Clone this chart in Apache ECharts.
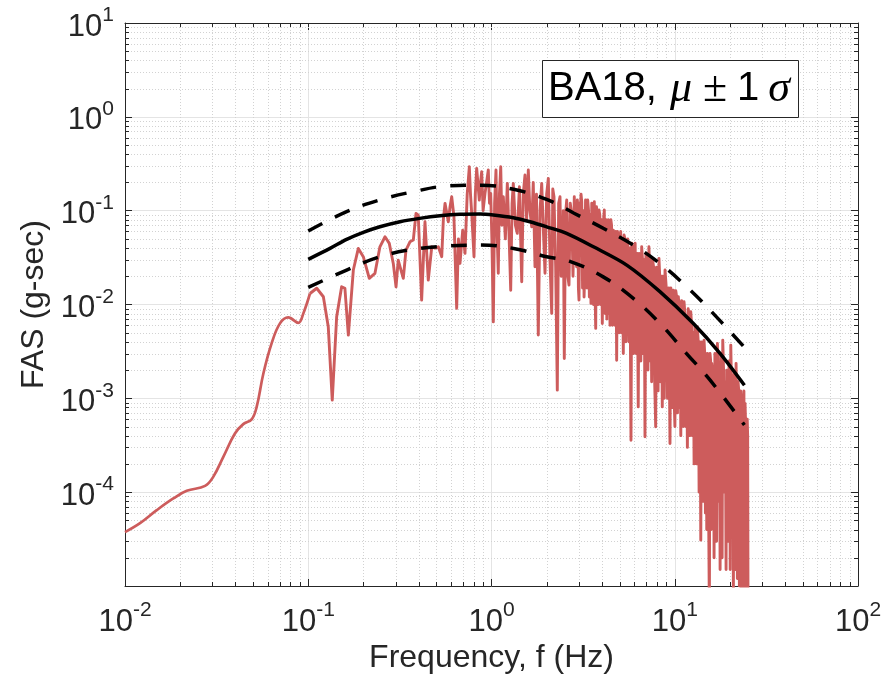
<!DOCTYPE html>
<html>
<head>
<meta charset="utf-8">
<script src="https://cdn.jsdelivr.net/npm/echarts@6.0.0/dist/echarts.min.js"></script>
<style>
html,body{margin:0;padding:0;background:#fff;}
#chart{width:892px;height:682px;}
</style>
</head>
<body>
<div id="chart"></div>
<script>
// ---------------- data ----------------
// FAS record, smooth low-frequency part [frequency (Hz), FAS (g-sec)]
const fasLow = [
  [0.01,3.75e-5],[0.01208,4.67e-5],[0.0149,6.43e-5],[0.01835,8.57e-5],[0.02173,1.033e-4],
  [0.02735,1.167e-4],[0.0303,1.456e-4],[0.0344,2.38e-4],[0.0398,4.22e-4],[0.0442,5.31e-4],
  [0.0491,5.96e-4],[0.0523,8.1e-4],[0.0569,1.84e-3],[0.0631,3.85e-3],[0.0701,6.29e-3],
  [0.0778,7.28e-3],[0.0883,6.38e-3],[0.094,8.04e-3],[0.1022,1.31e-2]
];
// FAS record, noisy part
const fasHigh = [
  [0.1022,1.31e-2],[0.1112,1.49e-2],[0.1209,1.21e-2],[0.1286,5.78e-3],[0.1352,9.57e-4],
  [0.1429,7.4e-3],[0.1521,1.545e-2],[0.1585,1.49e-2],[0.1655,4.72e-3],[0.1762,2.33e-2],
  [0.1876,3.96e-2],[0.1997,3.23e-2],[0.2153,1.9e-2],[0.2312,2.15e-2],[0.2461,4.12e-2],
  [0.2624,5.27e-2],[0.2768,4.48e-2],[0.2911,2.74e-2],[0.3013,1.545e-2],[0.3098,2.97e-2],
  [0.3206,2.33e-2],[0.3302,1.9e-2],[0.3414,3.8e-2],[0.359,4.66e-2],[0.3743,4.86e-2],
  [0.3873,9.36e-2],[0.3983,8.98e-2],[0.4157,1.114e-2],[0.4335,7.62e-2],[0.4519,1.82e-2],
  [0.472,4.12e-2],[0.492,3.99e-2],[0.5128,4.12e-2],[0.5351,3.23e-2],[0.546,0.08],
  [0.5577,0.1197],[0.5812,7.62e-2],[0.594,0.11],[0.6065,0.1406],[0.6238,8.61e-2],
  [0.6457,9.09e-3],[0.66,0.05],[0.673,2.74e-2],[0.6966,6.21e-2],[0.7168,3.51e-2],
  [0.737,0.15],[0.7568,0.2938],[0.768,0.15],[0.7798,9.36e-2],[0.8027,3.23e-2],
  [0.816,0.15],[0.83,0.2825],[0.8579,0.1297],[0.871,0.2],[0.8841,0.26],
  [0.90,0.1],[0.9215,0.1528],[0.94,0.2],[0.9605,0.271],[0.975,0.12],
  [0.99,0.1528],[1.005,0.05],[1.023,6.53e-3],[1.04,0.12],[1.058,0.271],
  [1.072,0.06],[1.089,2.15e-2],[1.105,0.15],[1.123,0.2938],[1.14,0.07],
  [1.16,0.1406],[1.19,0.05],[1.22,0.1954],[1.245,0.06],[1.273,1.42e-2],
  [1.295,0.12],[1.315,0.1954],[1.35,0.07],[1.383,5.73e-2],[1.42,0.18],
  [1.462,1.746e-2],[1.49,0.15],[1.523,0.2398],[1.555,0.08],[1.588,0.271],
  [1.62,0.1],[1.658,6.73e-2],[1.69,0.2],[1.727,2.52e-2],[1.76,0.15],
  [1.80,4.72e-3],[1.84,0.1],[1.879,0.1954],[1.92,0.06],[1.959,2.15e-2],
  [2.0,0.15],[2.042,0.2209],[2.085,0.03],[2.131,8.04e-3],[2.16,0.17],
  [2.193,0.1406],[2.24,0.025],[2.286,1.223e-3],[2.325,0.12],[2.365,0.1406],
  [2.40,0.02],[2.434,2.52e-2],[2.465,0.1],[2.496,2.66e-3],[2.535,0.09],
  [2.573,0.1297],[2.61,0.02],[2.648,1.61e-2],[2.69,0.12],[2.74,8.98e-2],
  [2.785,0.02],[2.83,0.1406],[2.875,0.03],[2.917,2.52e-2],[2.94,0.13],
  [2.96,0.11],[2.98,0.015],[3.003,1.114e-2],[3.03,0.12],[3.05,0.09],
  [3.08,0.15],[3.107,0.1245],[3.14,0.015],[3.17,0.1],[3.2,0.012],
  [3.237,2.74e-2],[3.26,0.13],[3.29,0.11],[3.32,0.015],[3.35,0.1297],
  [3.385,0.1],[3.42,0.012],[3.455,0.09],[3.49,1.028e-2],[3.525,0.12],
  [3.56,0.09],[3.6,0.01],[3.64,0.1245],[3.67,0.015],[3.704,5.56e-3],
  [3.74,0.11],[3.78,0.08],[3.82,0.01],[3.861,0.1015],[3.9,0.09],
  [3.94,0.01],[3.98,0.08],[4.024,6.28e-3],[4.07,0.07],[4.126,0.1015],
  [4.17,0.008],[4.21,0.08],[4.26,0.007],[4.306,5.73e-2],[4.34,0.08],
  [4.37,0.008],[4.40,0.06],[4.433,6e-3],[4.48,0.08],[4.52,0.07],
  [4.57,0.006],[4.62,6.21e-2],[4.67,0.05],[4.72,0.006],[4.77,0.06],
  [4.82,2.55e-3],[4.87,0.06],[4.92,0.04],[4.97,0.005],[5.02,5.27e-2],
  [5.07,0.06],[5.13,0.005],[5.18,0.05],[5.24,3.0e-3],[5.29,0.055],
  [5.35,0.05],[5.41,0.004],[5.466,4.48e-2],[5.54,0.05],[5.62,0.004],
  [5.69,0.04],[5.77,3.58e-4],[5.83,0.045],[5.89,0.035],[5.95,0.003],
  [6.01,3.8e-2],[6.08,0.045],[6.16,0.003],[6.24,0.035],[6.32,8.1e-4],
  [6.39,0.035],[6.46,0.03],[6.53,0.0025],[6.6,4.12e-2],[6.67,0.03],
  [6.74,0.003],[6.81,0.03],[6.88,3.89e-4],[6.96,0.035],[7.05,0.03],
  [7.14,0.002],[7.23,4.12e-2],[7.29,0.025],[7.35,0.0025],[7.41,0.03],
  [7.48,1.5e-3],[7.57,0.03],[7.67,0.025],[7.77,0.0015],[7.87,4.97e-4],
  [7.95,0.025],[8.03,0.015],[8.11,0.0012],[8.2,3.1e-2],[8.28,0.02],
  [8.37,0.0015],[8.46,0.02],[8.55,8.1e-4],[8.62,0.02],[8.7,0.018],
  [8.77,0.001],[8.85,2.33e-2],[8.99,0.015],[9.13,0.001],[9.27,0.015],
  [9.42,3.3e-4],[9.52,0.015],[9.62,0.012],[9.72,0.0008],[9.82,1.42e-2],
  [9.92,0.001],[10.02,5e-4],[10.13,0.014],[10.24,0.012],[10.35,0.0007],
  [10.46,1.21e-2],[10.54,0.01],[10.62,0.0008],[10.7,0.009],[10.79,4e-4],
  [10.9,0.011],[11.0,0.009],[11.12,0.0005],[11.24,1.068e-2],[11.36,0.008],
  [11.48,0.0005],[11.6,0.007],[11.72,3e-4],[11.84,0.009],[11.97,0.007],
  [12.1,0.0004],[12.23,8.36e-3],[12.36,0.006],[12.49,0.0004],[12.62,0.005],
  [12.75,2e-4],[12.88,0.006],[13.02,0.005],[13.15,0.0002],[13.29,5.78e-3],
  [13.43,0.004],[13.58,0.0001],[13.72,0.004],[13.87,3.08e-5],[14.01,0.004],
  [14.16,0.003],[14.3,8e-5],[14.45,4.17e-3],[14.57,0.003],[14.7,6e-5],
  [14.82,0.003],[14.95,4e-5],[15.08,0.003],[15.2,0.002],[15.32,5e-5],
  [15.45,5e-6],[15.58,0.003],[15.7,0.0025],[15.81,4e-5],[15.92,2.36e-3],
  [16.03,0.002],[16.15,1e-4],[16.27,0.002],[16.39,2e-5],[16.56,0.003],
  [16.74,0.002],[16.91,3e-5],[17.09,3.85e-3],[17.23,0.002],[17.38,8e-5],
  [17.53,0.002],[17.68,1.5e-5],[17.83,0.003],[17.98,0.002],[18.13,2e-5],
  [18.28,4.17e-3],[18.47,0.002],[18.67,1e-4],[18.86,0.0015],[19.06,1.5e-5],
  [19.2,0.002],[19.34,0.0015],[19.48,6e-5],[19.62,3e-5],[19.77,0.0025],
  [19.92,0.002],[20.07,1.5e-5],[20.22,3.69e-3],[20.38,0.0015],[20.55,5e-5],
  [20.72,0.0012],[20.89,8e-6],[21.07,0.0018],[21.25,0.0015],[21.43,1.5e-5],
  [21.61,2.36e-3],[21.7,0.001],[21.79,1.5e-5],[21.88,0.001],[21.97,1.2e-5],
  [22.16,0.0015],[22.35,0.0012],[22.53,1e-5],[22.72,6.9e-4],[22.91,0.0012],
  [23.1,8e-6],[23.3,0.0008],[23.5,8e-6],[23.67,0.001],[23.85,0.0012],
  [24.02,8e-6],[24.19,8.83e-4],[24.32,0.0006],[24.45,8e-6],[24.58,0.0005],
  [24.72,8e-6],[24.86,0.0006],[25.0,0.0004],[25.1,8e-6],[25.23,5e-6]
];
// BA18 model: median and +/- 1 sigma
const meanFreq  = [0.1, 0.1315, 0.162, 0.1997, 0.246, 0.3167, 0.405, 0.5236, 0.673, 0.8655, 1.023, 1.315, 1.622, 2.0, 2.57, 3.6, 5.47, 8.3, 12.6, 17.7, 24.0];
const meanAmp   = [0.0303, 0.0396, 0.0494, 0.0587, 0.0673, 0.0762, 0.0828, 0.0883, 0.0914, 0.092, 0.0898, 0.084, 0.0762, 0.0673, 0.0573, 0.0412, 0.0263, 0.0137, 0.0063, 0.0030, 0.00138];
const upperFreq = [0.1, 0.162, 0.246, 0.373, 0.569, 0.868, 1.32, 2.0, 2.82, 4.07, 5.94, 8.3, 11.6, 15.6, 24.0];
const upperAmp  = [0.0606, 0.0975, 0.130, 0.159, 0.183, 0.187, 0.169, 0.132, 0.094, 0.065, 0.043, 0.0274, 0.0155, 0.0087, 0.0035];
const lowerFreq = [0.1, 0.162, 0.246, 0.373, 0.569, 0.868, 1.32, 2.0, 2.72, 4.07, 5.94, 8.3, 11.6, 15.6, 24.0];
const lowerAmp  = [0.0152, 0.0233, 0.0323, 0.0387, 0.042, 0.043, 0.0396, 0.0323, 0.0285, 0.0197, 0.0116, 0.0063, 0.0030, 0.00156, 0.00052];
// axis ranges / labels
const X_MIN = 0.01, X_MAX = 100, Y_MIN = 1e-5, Y_MAX = 10;
const xName = 'Frequency, f (Hz)';
const yName = 'FAS (g-sec)';

// ---------------- helpers ----------------
function zip(xs, ys){ return xs.map((x,i)=>[x, ys[i]]); }
function minorValues(lo, hi){
  const out = [];
  for (let e = Math.round(Math.log10(lo)); e < Math.round(Math.log10(hi)); e++) {
    for (let m = 2; m <= 9; m++) out.push(m * Math.pow(10, e));
  }
  return out;
}
const xMinor = minorValues(X_MIN, X_MAX);
const yMinor = minorValues(Y_MIN, Y_MAX);

const AX = '#262626';
const FONT = 'Liberation Sans';
const tickRich = {
  b: { fontSize: 31, lineHeight: 44, fontFamily: FONT, color: AX },
  s: { fontSize: 21, lineHeight: 20, fontFamily: FONT, color: AX, verticalAlign: 'top' }
};
function powLabel(v, hideExp){
  const e = Math.round(Math.log10(v));
  if (hideExp !== undefined && e === hideExp) return '';
  return '{b|10}{s|' + e + '}';
}
const crisp = v => Math.round(v) + 0.5;

const chart = echarts.init(document.getElementById('chart'), null, {renderer: 'canvas'});
const option = {
  animation: false,
  backgroundColor: '#fff',
  grid: { left: 125, right: 34, top: 23, bottom: 96, containLabel: false, outerBoundsMode: 'none' },
  title: {
    text: '{a|BA18,}{m|μ}{p|±}{c|1}{n|σ}',
    left: 542, top: 60,
    padding: [7, 5, 7, 6],
    borderColor: AX, borderWidth: 1, backgroundColor: '#fff',
    textStyle: {
      fontWeight: 'normal',
      rich: {
        a: { fontFamily: FONT, fontSize: 40, fontWeight: 'normal', lineHeight: 44, color: '#000', width: 116, align: 'left' },
        m: { fontFamily: 'Liberation Serif', fontStyle: 'italic', fontWeight: 'normal', fontSize: 44, lineHeight: 44, color: '#000', width: 34, align: 'center' },
        p: { fontFamily: 'Liberation Serif', fontWeight: 'normal', fontSize: 44, lineHeight: 44, color: '#000', width: 34, align: 'center' },
        c: { fontFamily: FONT, fontSize: 40, fontWeight: 'normal', lineHeight: 44, color: '#000', width: 32, align: 'center' },
        n: { fontFamily: 'Liberation Serif', fontStyle: 'italic', fontWeight: 'normal', fontSize: 44, lineHeight: 44, color: '#000', width: 30, align: 'left' }
      }
    }
  },
  xAxis: [{
    type: 'log', logBase: 10, min: X_MIN, max: X_MAX, interval: 1, position: 'bottom',
    name: xName, nameLocation: 'middle', nameGap: 56,
    nameTextStyle: { fontSize: 32, fontFamily: FONT, color: AX },
    axisLine: { show: true, onZero: false, lineStyle: { color: AX, width: 1 } },
    axisTick: { show: true, inside: true, length: 7, lineStyle: { color: AX } },
    axisLabel: { margin: 14, formatter: v => powLabel(v), rich: tickRich },
    splitLine: { show: true, lineStyle: { color: '#e4e4e4', width: 1 } }
  }, {
    type: 'log', logBase: 10, min: X_MIN, max: X_MAX, interval: 1, position: 'top',
    axisLine: { show: true, onZero: false, lineStyle: { color: AX, width: 1 } },
    axisTick: { show: true, inside: true, length: 7, lineStyle: { color: AX } },
    axisLabel: { show: false }, splitLine: { show: false }
  }],
  yAxis: [{
    type: 'log', logBase: 10, min: Y_MIN, max: Y_MAX, interval: 1, position: 'left',
    name: yName, nameLocation: 'middle', nameGap: 65, nameRotate: 90,
    nameTextStyle: { fontSize: 32, fontFamily: FONT, color: AX },
    axisLine: { show: true, onZero: false, lineStyle: { color: AX, width: 1 } },
    axisTick: { show: true, inside: true, length: 7, lineStyle: { color: AX } },
    axisLabel: { margin: 11, padding: [8, 0, 0, 0], formatter: v => powLabel(v, -5), rich: tickRich },
    splitLine: { show: true, lineStyle: { color: '#e4e4e4', width: 1 } }
  }, {
    type: 'log', logBase: 10, min: Y_MIN, max: Y_MAX, interval: 1, position: 'right',
    axisLine: { show: true, onZero: false, lineStyle: { color: AX, width: 1 } },
    axisTick: { show: true, inside: true, length: 7, lineStyle: { color: AX } },
    axisLabel: { show: false }, splitLine: { show: false }
  }],
  series: [
    {
      type: 'custom', xAxisIndex: 0, yAxisIndex: 0, z: 1, silent: true,
      data: xMinor.map(v => [v, 1]), encode: { x: 0, y: 1 },
      renderItem: (params, api) => {
        const x = api.value(0);
        const b = api.coord([x, Y_MIN]), t = api.coord([x, Y_MAX]);
        const px = crisp(b[0]);
        return { type: 'group', children: [
          { type: 'line', shape: { x1: px, y1: b[1], x2: px, y2: t[1] }, style: { stroke: '#d2d2d2', lineWidth: 1, lineDash: [1, 2] } },
          { type: 'line', shape: { x1: px, y1: b[1], x2: px, y2: b[1] - 4 }, style: { stroke: AX, lineWidth: 1 } },
          { type: 'line', shape: { x1: px, y1: t[1], x2: px, y2: t[1] + 4 }, style: { stroke: AX, lineWidth: 1 } }
        ]};
      }
    },
    {
      type: 'custom', xAxisIndex: 0, yAxisIndex: 0, z: 1, silent: true,
      data: yMinor.map(v => [1, v]), encode: { x: 0, y: 1 },
      renderItem: (params, api) => {
        const y = api.value(1);
        const l = api.coord([X_MIN, y]), r = api.coord([X_MAX, y]);
        const py = crisp(l[1]);
        return { type: 'group', children: [
          { type: 'line', shape: { x1: l[0], y1: py, x2: r[0], y2: py }, style: { stroke: '#d2d2d2', lineWidth: 1, lineDash: [1, 2] } },
          { type: 'line', shape: { x1: l[0], y1: py, x2: l[0] + 4, y2: py }, style: { stroke: AX, lineWidth: 1 } },
          { type: 'line', shape: { x1: r[0], y1: py, x2: r[0] - 4, y2: py }, style: { stroke: AX, lineWidth: 1 } }
        ]};
      }
    },
    {
      type: 'line', data: fasLow, smooth: 0.4, symbol: 'none', z: 3,
      lineStyle: { color: '#cd5c5c', width: 2.7, join: 'round' }
    },
    {
      type: 'line', data: fasHigh, smooth: false, symbol: 'none', z: 3,
      lineStyle: { color: '#cd5c5c', width: 2.9, join: 'round' }
    },
    {
      type: 'line', data: zip(meanFreq, meanAmp), smooth: 0.3, symbol: 'none', z: 4,
      lineStyle: { color: '#000', width: 3.5 }
    },
    {
      type: 'line', data: zip(upperFreq, upperAmp), smooth: 0.4, symbol: 'none', z: 4,
      lineStyle: { color: '#000', width: 3.5, type: [16, 14] }
    },
    {
      type: 'line', data: zip(lowerFreq, lowerAmp), smooth: 0.4, symbol: 'none', z: 4,
      lineStyle: { color: '#000', width: 3.5, type: [16, 14] }
    }
  ]
};
chart.setOption(option);
</script>
</body>
</html>
